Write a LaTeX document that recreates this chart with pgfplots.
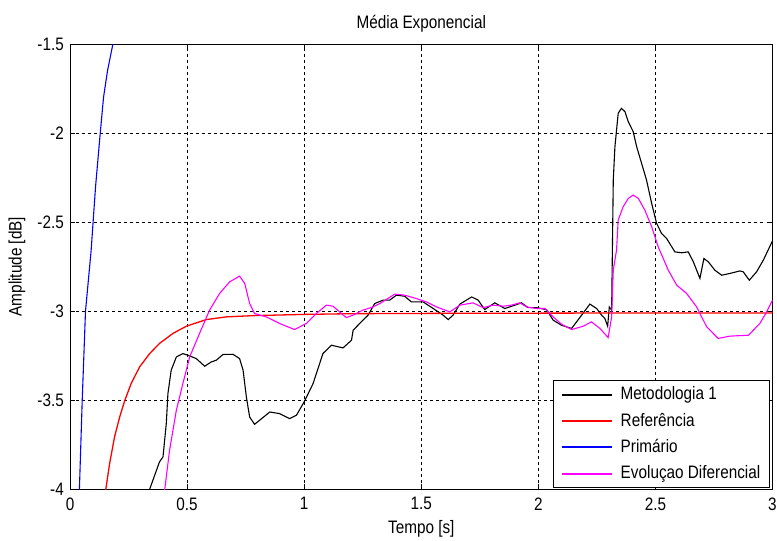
\documentclass[border=0pt]{standalone}
\usepackage{pgfplots}
\pgfplotsset{compat=1.18}
\usepackage{fontspec}
\setmainfont{Liberation Sans}[FakeStretch=0.85]
\definecolor{mred}{RGB}{255,0,0}
\definecolor{mblue}{RGB}{0,0,255}
\definecolor{mmag}{RGB}{255,0,255}
\begin{document}
\fontsize{18}{21}\selectfont
\begin{tikzpicture}
\begin{axis}[
  scale only axis,
  width=702pt, height=445pt,
  xmin=0, xmax=3, ymin=-4, ymax=-1.5,
  xtick={0,0.5,...,3}, ytick={-4,-3.5,-3,-2.5,-2,-1.5},
  xticklabels={0,0.5,1,1.5,2,2.5,3},
  yticklabels={-4,-3.5,-3,-2.5,-2,-1.5},
  tick align=inside, major tick length=5pt,
  tick style={black, line width=0.6pt},
  axis line style={line width=0.8pt},
  grid=major,
  major grid style={black, dashed, line width=0.6pt, dash pattern=on 3pt off 3pt},
  title={Média Exponencial},
  xlabel={Tempo [s]}, ylabel={Amplitude [dB]},
  xlabel style={yshift=2pt},
  ylabel style={yshift=0pt},
  xticklabel style={yshift=-2pt},
  every tick label/.append style={font=\fontsize{18}{21}\selectfont},
  label style={font=\fontsize{18}{21}\selectfont},
  title style={font=\fontsize{18}{21}\selectfont},
  /pgf/number format/assume math mode=true,
  legend style={at={(0.996,0.003)}, anchor=south east, line width=0.8pt,
    font=\fontsize{18}{21}\selectfont, row sep=6.5pt, inner xsep=7pt, inner ysep=4pt,
    /tikz/every odd column/.append style={column sep=6pt}},
  legend cell align=left,
  legend image code/.code={\draw[#1] (0pt,0pt) -- (50pt,0pt);},
  legend image post style={line width=2pt},
]
\addplot[color=black, line width=1.1pt] coordinates {
(0.33,-4.1)(0.340,-4.0)(0.382,-3.846)(0.397,-3.818)(0.411,-3.631)(0.418,-3.463)
(0.432,-3.331)(0.454,-3.257)(0.482,-3.238)(0.503,-3.247)(0.539,-3.266)(0.575,-3.309)
(0.603,-3.285)(0.625,-3.275)(0.653,-3.243)(0.696,-3.242)(0.724,-3.266)(0.739,-3.331)
(0.753,-3.481)(0.767,-3.594)(0.788,-3.635)(0.81,-3.612)(0.853,-3.566)(0.895,-3.575)
(0.938,-3.603)(0.967,-3.584)(1.002,-3.504)(1.038,-3.406)(1.08,-3.238)(1.116,-3.191)
(1.166,-3.206)(1.202,-3.163)(1.209,-3.107)(1.237,-3.069)(1.273,-3.022)(1.301,-2.957)
(1.337,-2.938)(1.365,-2.938)(1.394,-2.91)(1.429,-2.916)(1.458,-2.948)(1.508,-2.948)
(1.551,-2.985)(1.593,-3.022)(1.615,-3.047)(1.636,-3.022)(1.665,-2.96)(1.715,-2.92)
(1.743,-2.938)(1.771,-2.991)(1.814,-2.953)(1.857,-2.985)(1.9,-2.966)(1.928,-2.953)
(1.956,-2.98)(1.992,-2.98)(2.035,-2.991)(2.063,-3.05)(2.099,-3.079)(2.142,-3.097)
(2.185,-3.022)(2.22,-2.96)(2.249,-2.985)(2.27,-3.022)(2.284,-3.041)(2.296,-3.084)
(2.303,-2.976)(2.313,-2.994)(2.32,-2.264)(2.327,-2.077)(2.341,-1.889)(2.355,-1.861)
(2.37,-1.88)(2.384,-1.936)(2.405,-1.992)(2.42,-2.077)(2.441,-2.17)(2.462,-2.264)
(2.484,-2.395)(2.505,-2.507)(2.526,-2.563)(2.548,-2.592)(2.583,-2.667)(2.612,-2.672)
(2.64,-2.667)(2.662,-2.723)(2.69,-2.816)(2.707,-2.704)(2.726,-2.723)(2.754,-2.77)
(2.783,-2.798)(2.818,-2.788)(2.861,-2.774)(2.875,-2.779)(2.901,-2.826)(2.932,-2.779)
(2.961,-2.713)(3.0,-2.605)
};
\addlegendentry{Metodologia 1}
\addplot[color=mred, line width=1.3pt] coordinates {
(0.14,-4.1)(0.152,-4.006)(0.169,-3.856)(0.190,-3.706)(0.212,-3.594)(0.233,-3.504)
(0.261,-3.406)(0.297,-3.313)(0.340,-3.238)(0.382,-3.181)(0.439,-3.125)(0.497,-3.084)
(0.582,-3.047)(0.667,-3.032)(0.781,-3.025)(1.0,-3.018)(1.2,-3.014)(1.6,-3.012)
(2.0,-3.011)(2.5,-3.01)(3.0,-3.01)
};
\addlegendentry{Referência}
\addplot[color=mblue, line width=1.1pt] coordinates {
(0.03,-4.4)(0.04,-4.0)(0.052,-3.5)(0.066,-3.0)(0.09,-2.66)(0.109,-2.3)
(0.129,-2.0)(0.143,-1.8)(0.16,-1.65)(0.183,-1.5)(0.2,-1.4)
};
\addlegendentry{Primário}
\addplot[color=mmag, line width=1.1pt] coordinates {
(0.395,-4.1)(0.404,-4.006)(0.425,-3.781)(0.454,-3.556)(0.482,-3.406)(0.511,-3.257)
(0.553,-3.125)(0.596,-2.994)(0.639,-2.9)(0.682,-2.835)(0.724,-2.803)(0.746,-2.844)
(0.767,-2.957)(0.788,-3.013)(0.838,-3.032)(0.895,-3.069)(0.959,-3.103)(1.009,-3.069)
(1.052,-3.013)(1.095,-2.966)(1.123,-2.972)(1.159,-3.013)(1.18,-3.036)(1.209,-3.022)
(1.251,-2.994)(1.294,-2.976)(1.323,-2.957)(1.351,-2.934)(1.387,-2.904)(1.429,-2.91)
(1.479,-2.929)(1.522,-2.948)(1.565,-2.976)(1.622,-3.004)(1.665,-2.966)(1.721,-2.953)
(1.764,-2.98)(1.807,-2.966)(1.85,-2.972)(1.885,-2.966)(1.921,-2.953)(1.95,-2.976)
(1.992,-2.985)(2.028,-2.985)(2.063,-3.032)(2.099,-3.073)(2.142,-3.103)(2.192,-3.084)
(2.227,-3.06)(2.263,-3.097)(2.298,-3.148)(2.313,-3.032)(2.32,-2.77)(2.334,-2.657)
(2.341,-2.489)(2.362,-2.414)(2.384,-2.367)(2.405,-2.348)(2.427,-2.367)(2.455,-2.433)
(2.484,-2.526)(2.512,-2.639)(2.555,-2.77)(2.591,-2.854)(2.633,-2.9)(2.676,-2.976)
(2.719,-3.088)(2.768,-3.153)(2.818,-3.14)(2.897,-3.135)(2.946,-3.069)(2.975,-3.004)
(3.0,-2.938)
};
\addlegendentry{Evoluçao Diferencial}
\end{axis}
\pgfresetboundingbox
\path[use as bounding box] ([xshift=-70pt,yshift=-51pt]current axis.south west) rectangle ([xshift=4.5pt,yshift=44pt]current axis.north east);
\end{tikzpicture}
\end{document}
